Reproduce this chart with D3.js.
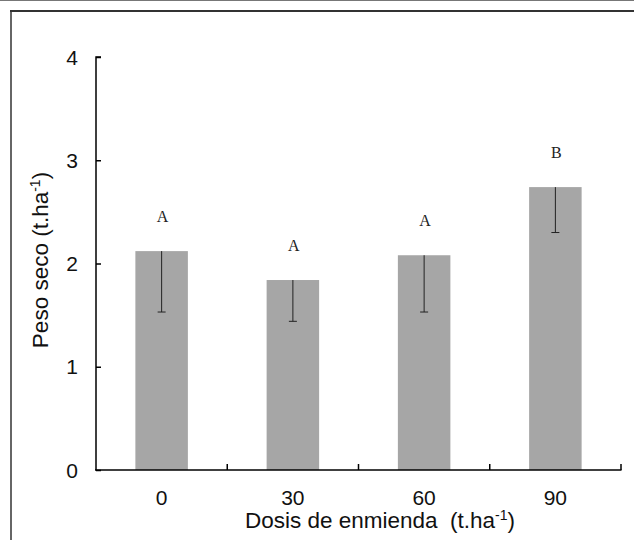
<!DOCTYPE html>
<html><head><meta charset="utf-8">
<script src="https://cdn.jsdelivr.net/npm/d3@7"></script>
<style>body{margin:0;background:#fff}svg{display:block}text{font-family:"Liberation Sans",Arial,sans-serif}</style>
</head><body><svg id="c" width="634" height="540"></svg>
<script>
const categories = ["0","30","60","90"];
const values = [2.12, 1.84, 2.08, 2.74];
const errMinus = [0.59, 0.40, 0.55, 0.44];
const letters = ["A","A","A","B"];
const yTicks = [0,1,2,3,4];

const svg = d3.select("#c");
// frame
svg.append("line").attr("x1",0).attr("x2",634).attr("y1",0.5).attr("y2",0.5).attr("stroke","#777").attr("stroke-width",1);
svg.append("line").attr("x1",10).attr("x2",634).attr("y1",11).attr("y2",11).attr("stroke","#333").attr("stroke-width",2);
svg.append("line").attr("x1",11).attr("x2",11).attr("y1",10).attr("y2",540).attr("stroke","#333").attr("stroke-width",1.5);

const x = d3.scaleBand().domain(categories).range([96,621]).paddingInner(0.6).paddingOuter(0.3);
const y = d3.scaleLinear().domain([0,4]).range([470,57]);

// bars
svg.selectAll("rect.bar").data(values).join("rect").attr("class","bar")
  .attr("x",(d,i)=>x(categories[i])).attr("width",x.bandwidth())
  .attr("y",d=>y(d)).attr("height",d=>y(0)-y(d)).attr("fill","#a6a6a6");

// error bars (minus only)
const eb = svg.selectAll("g.err").data(values).join("g").attr("class","err");
eb.append("line").attr("x1",(d,i)=>x(categories[i])+x.bandwidth()/2).attr("x2",(d,i)=>x(categories[i])+x.bandwidth()/2)
  .attr("y1",d=>y(d)).attr("y2",(d,i)=>y(d-errMinus[i])).attr("stroke","#222").attr("stroke-width",1);
eb.append("line").attr("x1",(d,i)=>x(categories[i])+x.bandwidth()/2-4).attr("x2",(d,i)=>x(categories[i])+x.bandwidth()/2+4)
  .attr("y1",(d,i)=>y(d-errMinus[i])).attr("y2",(d,i)=>y(d-errMinus[i])).attr("stroke","#222").attr("stroke-width",1);

// letters
svg.selectAll("text.let").data(values).join("text").attr("class","let")
  .attr("x",(d,i)=>x(categories[i])+x.bandwidth()/2+1).attr("y",d=>y(d)-29)
  .attr("text-anchor","middle").style("font-family","'Liberation Serif','Times New Roman',serif").style("font-size","16px")
  .attr("fill","#222").text((d,i)=>letters[i]);

// y axis
const yAxis = d3.axisRight(y).tickValues(yTicks).tickSize(5).tickFormat("");
const gy = svg.append("g").attr("transform","translate(96,0)").call(yAxis);
gy.select(".domain").attr("d","M5,"+y(4)+"H0V"+y(0)).attr("stroke","#000").attr("stroke-width",1.5).attr("fill","none");
gy.selectAll(".tick line").attr("stroke","#000").attr("stroke-width",1.5);
svg.selectAll("text.yt").data(yTicks).join("text").attr("class","yt")
  .attr("x",78).attr("y",d=>y(d)+7.5).attr("text-anchor","end").style("font-size","21px").attr("fill","#111").text(d=>d);

// x axis
const bounds = categories.map(c=>x(c)-x.step()*x.paddingInner()/2).concat([621]);
const gx = svg.append("g");
gx.append("line").attr("x1",95).attr("x2",621.5).attr("y1",y(0)).attr("y2",y(0)).attr("stroke","#000").attr("stroke-width",1.5);
gx.selectAll("line.xt").data(bounds.slice(1)).join("line").attr("class","xt")
  .attr("x1",d=>d).attr("x2",d=>d).attr("y1",y(0)).attr("y2",y(0)-6).attr("stroke","#000").attr("stroke-width",1.5);
svg.selectAll("text.xtl").data(categories).join("text").attr("class","xtl")
  .attr("x",d=>x(d)+x.bandwidth()/2).attr("y",505).attr("text-anchor","middle").style("font-size","21px").attr("fill","#111").text(d=>d);

// axis titles
const xt = svg.append("text").attr("x",380).attr("y",528).attr("text-anchor","middle").style("font-size","22.5px").attr("fill","#111").attr("xml:space","preserve").style("white-space","pre");
xt.append("tspan").text("Dosis de enmienda  (t.ha");
xt.append("tspan").attr("dy",-8).style("font-size","14px").text("-1");
xt.append("tspan").attr("dy",8).text(")");

const yt = svg.append("text").attr("transform","translate(48,260) rotate(-90)").attr("text-anchor","middle").style("font-size","22.5px").attr("fill","#111");
yt.append("tspan").text("Peso seco (t.ha");
yt.append("tspan").attr("dy",-8).style("font-size","14px").text("-1");
yt.append("tspan").attr("dy",8).text(")");
</script></body></html>
